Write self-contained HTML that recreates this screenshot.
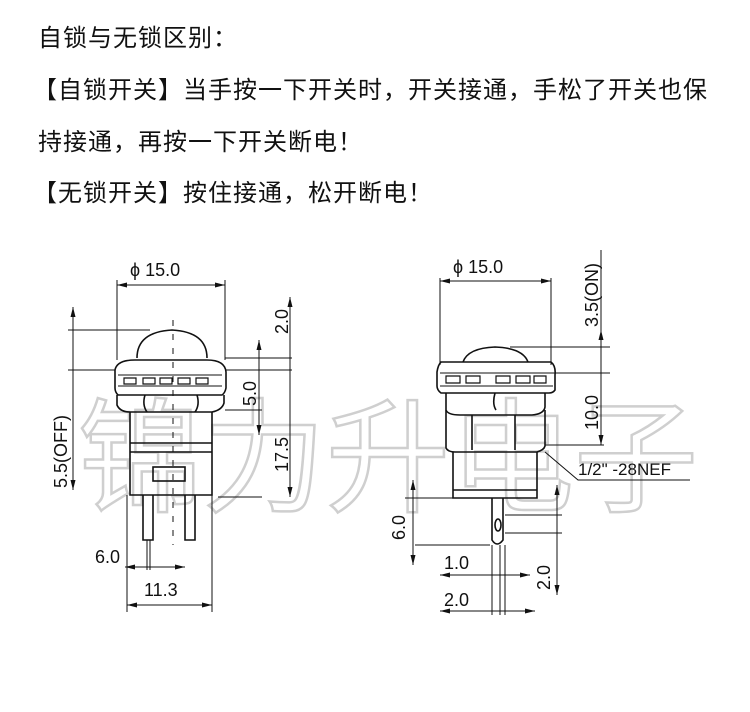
<!DOCTYPE html>
<html><head><meta charset="utf-8"><style>
html,body{margin:0;padding:0;background:#fff;}
body{width:750px;height:712px;overflow:hidden;position:relative;}
svg{position:absolute;left:0;top:0;}
</style></head><body>
<svg width="750" height="712" viewBox="0 0 750 712" xmlns="http://www.w3.org/2000/svg">
<g font-family="'Liberation Sans','Noto Sans CJK SC',sans-serif" font-size="24" fill="#111" letter-spacing="1">
<text x="38" y="46">自锁与无锁区别：</text>
<text x="33" y="98">【自锁开关】当手按一下开关时，开关接通，手松了开关也保</text>
<text x="38" y="150">持接通，再按一下开关断电！</text>
<text x="33" y="201">【无锁开关】按住接通，松开断电！</text>
</g>
<!-- watermark -->
<g font-family="'Noto Sans CJK SC',sans-serif" font-size="124" fill="none" stroke="#cfcfcf" stroke-width="2.5">
<text x="78" y="502" textLength="620" lengthAdjust="spacing">锦力升电子</text>
</g>
<g stroke="#111" stroke-width="1.6" fill="none">
<!-- LEFT drawing -->
<path d="M137 358 Q137 332 172 330 Q207 332 207 358"/>
<path d="M115 370 Q117 360 135 360 L207 360 Q225 360 226 372 L226 388 Q225 393 222 395 L118 395 Q115 392 115 388 Z"/>
<path d="M118 375 h104 M118 386 h104" stroke-width="1"/>
<path d="M124 378 h12 v6 h-12z M143 378 h12 v6 h-12z M160 378 h12 v6 h-12z M178 378 h12 v6 h-12z M196 378 h12 v6 h-12z" stroke-width="1.2"/>
<path d="M117 395 L117 405 Q120 412 130 412 L212 412 Q222 410 224 403 L224 395"/>
<path d="M145 395 Q142 405 147 412 M197 395 Q200 405 195 412"/>
<path d="M130 412 V495 H212 V412"/>
<path d="M130 443 H212 M130 452 H212"/>
<rect x="153" y="467" width="32" height="14"/>
<path d="M143 495 V540 H153 V495 M185 495 V540 H195 V495"/>
<path d="M173 320 V545" stroke-dasharray="6 8" stroke-width="1"/>
<!-- dims left -->
<path d="M117 280 V360 M225 280 V360 M117 285 H225" stroke-width="1"/>
<path d="M68 330 H150 M68 370 H115 M73 307 V490" stroke-width="1"/>
<path d="M225 358 H292 M226 370 H292 M290 297 V497 M218 497 H262 M225 410 H262 M259 340 V435" stroke-width="1"/>
<path d="M127 495 V612 M212 495 V612 M125 567 H185 M127 605 H212 M147 540 V570 M150 540 V570" stroke-width="1"/>
<!-- RIGHT drawing -->
<path d="M463 362 Q468 348 495 347 Q523 348 528 362"/>
<path d="M441 362 L551 362 Q556 366 555 375 L555 390 Q553 393 549 393 L441 393 Q437 390 437 386 L437 372 Q438 365 441 362 Z"/>
<path d="M440 373 h113 M440 386 h113" stroke-width="1"/>
<path d="M446 376 h14 v7 h-14z M466 376 h14 v7 h-14z M496 376 h14 v7 h-14z M516 376 h14 v7 h-14z M534 376 h12 v7 h-12z" stroke-width="1.2"/>
<path d="M446 393 V410 Q448 415 460 415 L532 415 Q544 414 545 407 V393 M495 393 Q492 404 496 410"/>
<path d="M446 410 V448 Q448 452 455 452 L537 452 Q544 450 545 446 V410"/>
<path d="M472 415 V450 M515 415 V450"/>
<path d="M453 452 V498 H537 V452 M453 490 H537"/>
<path d="M492 498 V540 Q497 548 503 540 V498"/>
<ellipse cx="498" cy="525" rx="3" ry="6"/>
<!-- dims right -->
<path d="M440 278 V365 M551 278 V365 M440 281 H551" stroke-width="1"/>
<path d="M601 250 V445 M510 347 H610 M545 373 H610 M545 445 H604" stroke-width="1"/>
<path d="M545 452 L578 480 H690" stroke-width="1"/>
<path d="M413 480 V565 M405 498 H455 M415 545 H490" stroke-width="1"/>
<path d="M557 485 V595 M505 515 H562 M505 533 H562" stroke-width="1"/>
<path d="M492 545 V615 M500 545 V615 M505 545 V615 M440 575 H530 M440 611 H535" stroke-width="1"/>
</g>
<!-- arrowheads -->
<g fill="#111">
<path d="M117 285 l10 -2.5 v5z M225 285 l-10 -2.5 v5z M440 281 l10 -2.5 v5z M551 281 l-10 -2.5 v5z"/>
<path d="M73 307 l-2.5 10 h5z M73 490 l-2.5 -10 h5z M290 297 l-2.5 10 h5z M290 497 l-2.5 -10 h5z M259 340 l-2.5 10 h5z M259 435 l-2.5 -10 h5z"/>
<path d="M127 605 l10 -2.5 v5z M212 605 l-10 -2.5 v5z M125 567 l10 -2.5 v5z M185 567 l-10 -2.5 v5z"/>
<path d="M601 330 l-2.5 10 h5z M601 445 l-2.5 -10 h5z M413 480 l-2.5 10 h5z M413 565 l-2.5 -10 h5z M557 485 l-2.5 10 h5z M557 595 l-2.5 -10 h5z"/>
<path d="M440 575 l10 -2.5 v5z M530 575 l-10 -2.5 v5z M440 611 l10 -2.5 v5z M535 611 l-10 -2.5 v5z"/>
</g>
<g font-family="'Liberation Sans',sans-serif" font-size="18" fill="#111">
<text x="130" y="276">ϕ 15.0</text>
<text x="453" y="273">ϕ 15.0</text>
<text x="95" y="563">6.0</text>
<text x="144" y="596">11.3</text>
<text x="444" y="569">1.0</text>
<text x="444" y="606">2.0</text>
<text x="578" y="475" font-size="17">1/2"  -28NEF</text>
<text transform="translate(67,488) rotate(-90)">5.5(OFF)</text>
<text transform="translate(288,334) rotate(-90)">2.0</text>
<text transform="translate(256,406) rotate(-90)">5.0</text>
<text transform="translate(288,472) rotate(-90)">17.5</text>
<text transform="translate(598,327) rotate(-90)">3.5(ON)</text>
<text transform="translate(598,430) rotate(-90)">10.0</text>
<text transform="translate(405,540) rotate(-90)">6.0</text>
<text transform="translate(550,590) rotate(-90)">2.0</text>
</g>
</svg>
</body></html>
